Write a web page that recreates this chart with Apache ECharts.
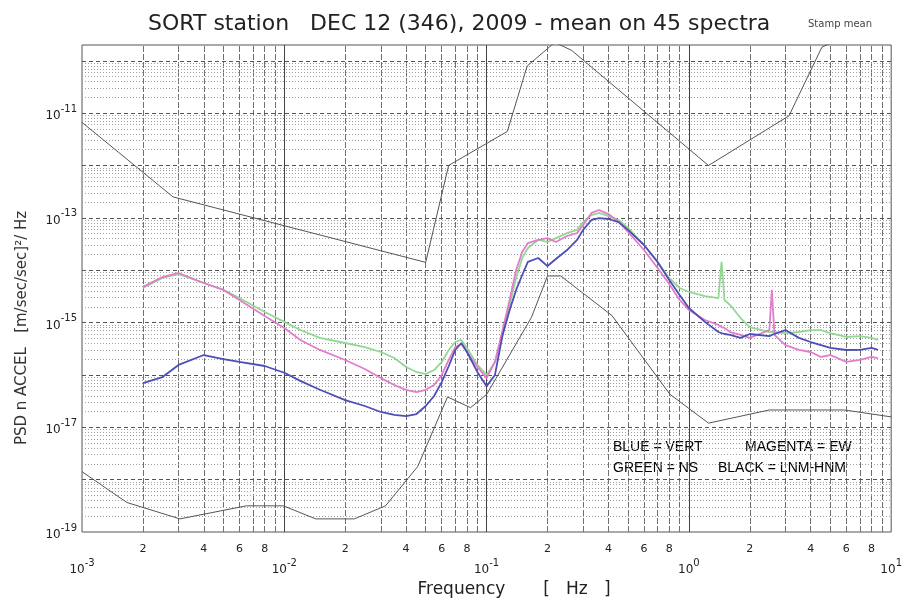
<!DOCTYPE html>
<html><head><meta charset="utf-8">
<script src="https://cdn.jsdelivr.net/npm/echarts@6/dist/echarts.min.js"></script>
<style>html,body{margin:0;padding:0;background:#fff}#c{width:905px;height:605px}</style>
</head><body><div id="c"></div>
<script>
// ---- data ----
const freq = [0.002,0.0025,0.003,0.004,0.005,0.006,0.008,0.01,0.012,0.015,
  0.02,0.025,0.03,0.035,0.04,0.045,0.05,0.055,0.06,0.065,
  0.07,0.075,0.08,0.09,0.1,0.11,0.12,0.13,0.14,0.15,
  0.16,0.18,0.2,0.22,0.25,0.28,0.3,0.33,0.36,0.4,
  0.45,0.5,0.6,0.7,0.8,0.9,1.0,1.2,1.4,1.45,
  1.5,1.6,1.8,2.0,2.5,2.57,2.65,3.0,3.5,4.0,
  4.5,5.0,6.0,7.0,8.0,8.6];
const vertBlue = [7.0e-17,9.1e-17,1.55e-16,2.4e-16,2.0e-16,1.77e-16,1.48e-16,1.1e-16,7.7e-17,5.2e-17,
  3.3e-17,2.55e-17,1.96e-17,1.72e-17,1.64e-17,1.79e-17,2.55e-17,3.96e-17,7.3e-17,1.48e-16,
  2.99e-16,4.07e-16,2.74e-16,1.14e-16,6.1e-17,1.0e-16,5.8e-16,1.74e-15,4.2e-15,8.1e-15,
  1.44e-14,1.71e-14,1.2e-14,1.64e-14,2.43e-14,3.78e-14,5.9e-14,9.1e-14,9.9e-14,9.5e-14,
  8.3e-14,5.9e-14,3.03e-14,1.44e-14,6.5e-15,3.36e-15,1.9e-15,1.03e-15,6.6e-16,6.3e-16,
  6.05e-16,5.8e-16,5.1e-16,6.05e-16,5.5e-16,5.8e-16,6.05e-16,7.2e-16,5.1e-16,4.25e-16,
  3.7e-16,3.27e-16,2.99e-16,3.0e-16,3.27e-16,3.0e-16];
const ewMagenta = [4.8e-15,7.4e-15,8.85e-15,5.7e-15,4.2e-15,2.7e-15,1.33e-15,7.9e-16,4.65e-16,3.0e-16,
  1.93e-16,1.3e-16,8.7e-17,6.4e-17,5.2e-17,4.7e-17,5.2e-17,6.4e-17,1.0e-16,1.93e-16,
  3.4e-16,3.9e-16,2.74e-16,1.42e-16,8.7e-17,1.77e-16,7.2e-16,2.7e-15,1.01e-14,2.23e-14,
  3.3e-14,3.78e-14,4.1e-14,3.46e-14,4.5e-14,5.1e-14,7.3e-14,1.24e-13,1.41e-13,1.18e-13,
  8.3e-14,5.4e-14,2.43e-14,1.1e-14,5.45e-15,2.7e-15,1.74e-15,1.12e-15,9.0e-16,8.2e-16,
  7.9e-16,6.6e-16,5.8e-16,5.1e-16,7.2e-16,4.2e-15,5.8e-16,3.7e-16,3.0e-16,2.74e-16,
  2.2e-16,2.4e-16,1.77e-16,1.93e-16,2.2e-16,2.1e-16];
const nsGreen = [4.57e-15,7.1e-15,8.45e-15,5.7e-15,4.2e-15,2.94e-15,1.59e-15,1.03e-15,7.2e-16,5.1e-16,
  4.07e-16,3.4e-16,2.74e-16,2.1e-16,1.42e-16,1.14e-16,1.04e-16,1.24e-16,1.77e-16,3.0e-16,
  4.25e-16,4.65e-16,3.27e-16,1.55e-16,1.0e-16,1.77e-16,5.8e-16,2.16e-15,7.1e-15,1.71e-14,
  2.65e-14,3.78e-14,3.46e-14,4.1e-14,5.1e-14,5.9e-14,8.3e-14,1.13e-13,1.24e-13,1.08e-13,
  9.1e-14,6.4e-14,3.03e-14,1.44e-14,7.1e-15,4.57e-15,3.84e-15,3.2e-15,2.94e-15,1.44e-14,
  2.7e-15,2.16e-15,1.22e-15,8.2e-16,6.6e-16,6.6e-16,6.6e-16,6.3e-16,6.6e-16,7.2e-16,
  7.2e-16,6.3e-16,5.3e-16,5.5e-16,5.1e-16,4.65e-16];
const hnmFreq = [0.001,0.002818,0.05,0.0649,0.1266,0.1587,0.2174,0.2632,1.25,3.125,4.545,10];
const hnmVal  = [6.65e-12,2.51e-13,1.41e-14,1.0e-12,4.47e-12,7.94e-11,2.24e-10,1.58e-10,1.0e-12,8.9e-12,1.82e-10,7.08e-10];
const lnmFreq = [0.001,0.001667,0.00305,0.00649,0.0099,0.01429,0.02222,0.03165,0.04566,0.0641,0.0833,0.1,0.1667,0.2,0.2326,0.4167,0.806,1.25,2.5,5.88,10];
const lnmVal  = [1.42e-18,3.66e-19,1.78e-19,3.16e-19,3.16e-19,1.78e-19,1.78e-19,3.16e-19,1.78e-18,3.8e-17,2.37e-17,4.22e-17,1.26e-15,7.76e-15,7.76e-15,1.36e-15,4.26e-17,1.2e-17,2.14e-17,2.14e-17,1.58e-17];
const xDecadeExps = [-3,-2,-1,0,1];
const yLabelExps = [-19,-17,-15,-13,-11];
const minorLabels = {2:'2',4:'4',6:'6',8:'8'};
const titleText = 'SORT station   DEC 12 (346), 2009 - mean on 45 spectra';
const legendTexts = ['BLUE = VERT','MAGENTA = EW','GREEN = NS','BLACK = LNM-HNM'];

// ---- chart ----
const X_MIN = 1e-3, X_MAX = 10, Y_MIN = 1e-19, Y_MAX = 2e-10;
const pair = (xs, ys) => xs.map((x, i) => [x, ys[i]]);
const near = v => Number(v.toPrecision(6));

const vLines = [];
for (let n = -3; n <= 0; n++) {
  for (let k = 1; k <= 9; k++) {
    const v = near(k * Math.pow(10, n));
    if (v <= X_MIN) continue;
    vLines.push({
      xAxis: v,
      lineStyle: {color: k === 1 ? '#444' : '#707070', width: 1, type: k === 1 ? 'solid' : [6, 2]},
      label: minorLabels[k] ? {show: true, position: 'start', formatter: minorLabels[k], distance: 12,
        color: '#222', fontSize: 11, fontFamily: 'DejaVu Sans'} : {show: false}
    });
  }
}
const hLines = [];
for (let n = -19; n <= -10; n++) {
  for (let k = 1; k <= 9; k++) {
    const v = near(k * Math.pow(10, n));
    if (v <= Y_MIN || v >= Y_MAX * 0.999) continue;
    hLines.push({
      yAxis: v,
      lineStyle: k === 1 ? {color: '#555', width: 1, type: [4, 3]} : {color: '#a0a0a0', width: 1, type: [1, 2]},
      label: {show: false}
    });
  }
}

const chart = echarts.init(document.getElementById('c'), null, {renderer: 'canvas'});
chart.setOption({
  animation: false,
  backgroundColor: '#fff',
  title: {text: titleText, left: 143, top: 8,
    textStyle: {fontSize: 22, fontWeight: 'normal', color: '#222', fontFamily: 'DejaVu Sans'}},
  grid: {left: 82, right: 9, top: 45, bottom: 73, show: true, borderColor: '#555', borderWidth: 1},
  xAxis: {type: 'log', logBase: 10, min: X_MIN, max: X_MAX,
    axisLine: {show: false}, axisTick: {show: false}, splitLine: {show: false},
    axisLabel: {margin: 26, fontSize: 12, color: '#222', fontFamily: 'DejaVu Sans',
      formatter: v => {
        const e = Math.round(Math.log10(v));
        if (Math.abs(Math.log10(v) - e) > 1e-6 || !xDecadeExps.includes(e)) return '';
        return '{b|10}{s|' + e + '}';
      },
      rich: {b: {fontSize: 12, verticalAlign: 'bottom', lineHeight: 18, color: '#222'},
             s: {fontSize: 10, verticalAlign: 'top', lineHeight: 18, color: '#222'}}}},
  yAxis: {type: 'log', logBase: 10, min: Y_MIN, max: Y_MAX,
    axisLine: {show: false}, axisTick: {show: false}, splitLine: {show: false},
    axisLabel: {margin: 5, fontSize: 12, color: '#222', fontFamily: 'DejaVu Sans',
      formatter: v => {
        const e = Math.round(Math.log10(v));
        if (Math.abs(Math.log10(v) - e) > 1e-6 || !yLabelExps.includes(e)) return '';
        return '{b|10}{s|' + e + '}';
      },
      rich: {b: {fontSize: 12, verticalAlign: 'bottom', lineHeight: 18, color: '#222'},
             s: {fontSize: 10, verticalAlign: 'top', lineHeight: 18, color: '#222'}}}},
  series: [
    {type: 'line', name: 'LNM', data: pair(lnmFreq, lnmVal), showSymbol: false, z: 3,
      lineStyle: {color: '#555', width: 1}, itemStyle: {color: '#555'},
      markLine: {silent: true, symbol: ['none', 'none'], z: 1, animation: false, precision: 20,
        data: vLines.concat(hLines)}},
    {type: 'line', name: 'HNM', data: pair(hnmFreq, hnmVal), showSymbol: false, z: 3,
      lineStyle: {color: '#555', width: 1}, itemStyle: {color: '#555'}},
    {type: 'line', name: 'NS', data: pair(freq, nsGreen), showSymbol: false, z: 4,
      lineStyle: {color: '#92d892', width: 1.8}, itemStyle: {color: '#92d892'}},
    {type: 'line', name: 'EW', data: pair(freq, ewMagenta), showSymbol: false, z: 5,
      lineStyle: {color: '#e27ccb', width: 1.8}, itemStyle: {color: '#e27ccb'}},
    {type: 'line', name: 'VERT', data: pair(freq, vertBlue), showSymbol: false, z: 6,
      lineStyle: {color: '#4d4db8', width: 1.8}, itemStyle: {color: '#4d4db8'}}
  ],
  graphic: [
    {type: 'text', x: 808, y: 19, style: {text: 'Stamp mean', fontSize: 10, fill: '#444', fontFamily: 'DejaVu Sans'}},
    {type: 'text', x: 22, y: 328, rotation: Math.PI / 2,
      style: {text: 'PSD n ACCEL   [m/sec/sec]²/ Hz', fontSize: 15, fill: '#333', fontFamily: 'DejaVu Sans',
        textAlign: 'center', textVerticalAlign: 'middle'}},
    {type: 'text', x: 514, y: 590,
      style: {text: 'Frequency       [   Hz   ]', fontSize: 17, fill: '#222', fontFamily: 'DejaVu Sans',
        textAlign: 'center', textVerticalAlign: 'middle'}},
    {type: 'text', x: 613, y: 447, style: {text: legendTexts[0], fontSize: 14, fill: '#000', fontFamily: 'Liberation Sans', textVerticalAlign: 'middle'}},
    {type: 'text', x: 745, y: 447, style: {text: legendTexts[1], fontSize: 14, fill: '#000', fontFamily: 'Liberation Sans', textVerticalAlign: 'middle'}},
    {type: 'text', x: 613, y: 468, style: {text: legendTexts[2], fontSize: 14, fill: '#000', fontFamily: 'Liberation Sans', textVerticalAlign: 'middle'}},
    {type: 'text', x: 718, y: 468, style: {text: legendTexts[3], fontSize: 14, fill: '#000', fontFamily: 'Liberation Sans', textVerticalAlign: 'middle'}}
  ]
});
</script></body></html>
